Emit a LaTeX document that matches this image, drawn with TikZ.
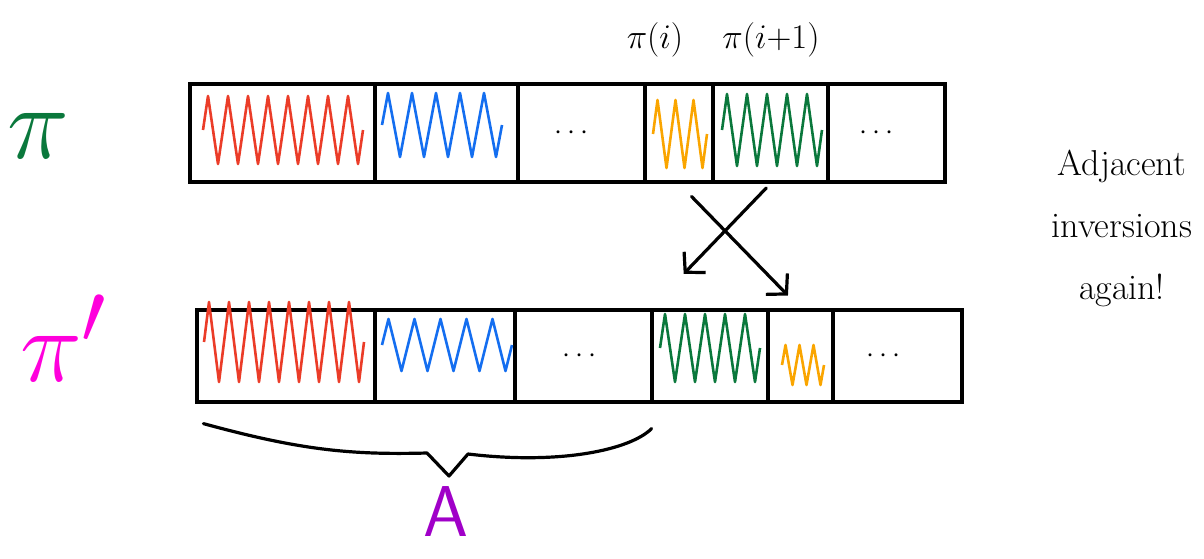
\documentclass[tikz,border=0pt]{standalone}
\usetikzlibrary{arrows.meta,decorations.pathmorphing,fit}

\begin{document}
\begin{tikzpicture}[
  x=0.5pt, y=-0.5pt,
  % --- cell and stroke styles ---
  cell/.style={draw, line width=1.6pt, inner sep=0pt, fit={#1}},
  scrib/.style={#1, line width=1.3pt, line join=round,
                decorate, decoration={zigzag}},
  swap/.style={line width=1.6pt, line cap=round,
               -{Straight Barb[length=7pt,width=15pt]}},
  brc/.style={line width=1.6pt, line cap=round, line join=round},
  dots/.style={font=\Large},
  rowlbl/.style={#1, font=\Huge, scale=2.1},
]
  % --- Colours ---
  \definecolor{cRed}{RGB}{235,60,40}
  \definecolor{cBlue}{RGB}{20,110,240}
  \definecolor{cOrange}{RGB}{250,165,0}
  \definecolor{cGreen}{RGB}{10,120,60}
  \definecolor{cPink}{RGB}{255,0,220}
  \definecolor{cPurple}{RGB}{160,0,200}

  \useasboundingbox (0,0) rectangle (1204,558);

  % --- Row labels ---
  \node[rowlbl=cGreen] (pi)  at (38,136) {$\pi$};
  \node[rowlbl=cPink]  (pi2) at (64,338) {$\pi'$};

  % --- Top row (pi) ---
  \node[cell={(190,84) (375,182)}] (t1) {};
  \node[cell={(375,84) (518,182)}] (t2) {};
  \node[cell={(518,84) (645,182)}] (t3) {};
  \node[cell={(645,84) (713,182)}] (t4) {};
  \node[cell={(713,84) (828,182)}] (t5) {};
  \node[cell={(828,84) (945,182)}] (t6) {};

  % --- Bottom row (pi') ---
  \node[cell={(197,310) (375,402)}] (b1) {};
  \node[cell={(375,310) (515,402)}] (b2) {};
  \node[cell={(515,310) (652,402)}] (b3) {};
  \node[cell={(652,310) (768,402)}] (b4) {};
  \node[cell={(768,310) (833,402)}] (b5) {};
  \node[cell={(833,310) (962,402)}] (b6) {};

  % --- Scribbled contents ---
  \draw[scrib=cRed,    decoration={amplitude=17pt, segment length=10pt}] (203,130) -- (363,130);
  \draw[scrib=cBlue,   decoration={amplitude=16pt, segment length=12pt}] (382,125) -- (502,125);
  \draw[scrib=cOrange, decoration={amplitude=17pt, segment length=9pt}]  (653,134) -- (707,134);
  \draw[scrib=cGreen,  decoration={amplitude=18pt, segment length=10pt}] (722,130) -- (822,130);
  \draw[scrib=cRed,    decoration={amplitude=20pt, segment length=10pt}] (204,342) -- (364,342);
  \draw[scrib=cBlue,   decoration={amplitude=13pt, segment length=13pt}] (382,345) -- (512,345);
  \draw[scrib=cGreen,  decoration={amplitude=17pt, segment length=10pt}] (660,348) -- (760,348);
  \draw[scrib=cOrange, decoration={amplitude=10pt, segment length=7pt}]  (782,365) -- (824,365);

  \node[dots] (d1) at ([xshift=-5pt]t3) {$\cdots$};
  \node[dots] (d2) at ([xshift=-5pt]t6) {$\cdots$};
  \node[dots] (d3) at ([xshift=-2pt]b3) {$\cdots$};
  \node[dots] (d4) at ([xshift=-7pt]b6) {$\cdots$};

  % --- Element labels ---
  \node[font=\LARGE] (pii)  at (655,40) {$\pi(i)$};
  \node[font=\LARGE] (pii1) at (771,40) {$\pi(i{+}1)$};

  % --- Swap arrows ---
  \draw[swap, shorten <=9pt, shorten >=9pt]  (t4.south) -- (b5.north);
  \draw[swap, shorten <=3pt, shorten >=24pt] (t5.south) -- (b4.north west);

  % --- Brace under the prefix ---
  \coordinate (brL) at (b1.south west);
  \coordinate (brR) at (b3.south east);
  \draw[brc] ([shift={(8,20)}]brL) .. controls (300,450) and (350,455) .. (427,453)
    -- (449,476) -- (468,454) .. controls (560,465) and (630,450) .. ([shift={(-2,25)}]brR);
  \node[cPurple, font=\fontsize{36}{40}\selectfont\sffamily] (A) at (446,512) {A};

  % --- Side remark ---
  \node[align=center, font=\fontsize{18}{31}\selectfont] (rem) at (1122,228)
    {Adjacent\\inversions\\again!};
\end{tikzpicture}
\end{document}
